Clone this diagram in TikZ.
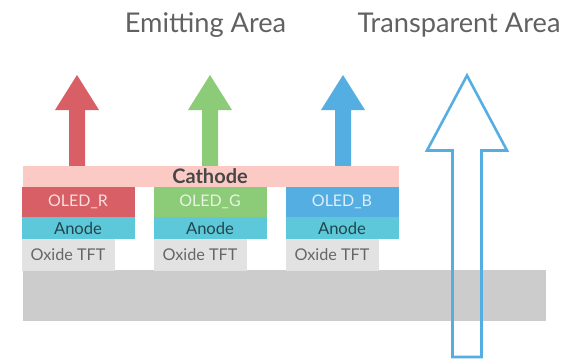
\documentclass[tikz,border=0pt]{standalone}
\usepackage{fontspec}
\setmainfont{Lato}
\definecolor{cred}{HTML}{D75F65}
\definecolor{cgreen}{HTML}{8CCB77}
\definecolor{cblue}{HTML}{55AEE2}
\definecolor{ccath}{HTML}{FBCAC5}
\definecolor{canode}{HTML}{5DC8D9}
\definecolor{ctft}{HTML}{E2E2E2}
\definecolor{cbase}{HTML}{CCCCCC}
\tikzset{
  layer/.style={inner sep=0pt,outer sep=0pt,anchor=north west,font=\fontsize{16}{16}\selectfont},
  oled/.style={layer,minimum width=113pt,minimum height=30pt,text=white,text opacity=0.8},
  anodebox/.style={layer,minimum width=113pt,minimum height=22pt,fill=canode,text=black!65!canode,font=\fontsize{16.6}{16.6}\selectfont},
  tftbox/.style={layer,minimum width=93pt,minimum height=32pt,fill=ctft,text=black!60,font=\fontsize{16.2}{16.2}\selectfont},
  title/.style={inner sep=0pt,font=\fontsize{27.2}{27.2}\selectfont,text=black!62},
}
\newcommand{\emitarrow}[2]{\fill[#2] (#1,75) -- (#1+22,110) -- (#1+8,110) -- (#1+8,167) -- (#1-8,167) -- (#1-8,110) -- (#1-22,110) -- cycle;}
\begin{document}
\begin{tikzpicture}[x=1pt,y=-1pt]
\useasboundingbox (0,0) rectangle (566,360);
\node[layer,fill=cbase,minimum width=523pt,minimum height=51pt] (base) at (23,270) {};
\emitarrow{77}{cred}
\emitarrow{210}{cgreen}
\emitarrow{343}{cblue}
\node[layer,fill=ccath,minimum width=376pt,minimum height=21pt] (cathode) at (23,166) {};
\node[inner sep=0pt,font=\fontsize{20}{20}\selectfont\bfseries,text=black!72] (cathodelabel) at (210,176.5) {Cathode};
\node[oled,fill=cred] (oledr) at (21.5,187) {OLED\_R};
\node[oled,fill=cgreen] (oledg) at (153.5,187) {OLED\_G};
\node[oled,fill=cblue] (oledb) at (285.5,187) {OLED\_B};
\node[anodebox] (anoder) at (21.5,217) {Anode};
\node[anodebox] (anodeg) at (153.5,217) {Anode};
\node[anodebox] (anodeb) at (285.5,217) {Anode};
\node[tftbox] (tftr) at (21.5,238.5) {Oxide TFT};
\node[tftbox] (tftg) at (153.5,238.5) {Oxide TFT};
\node[tftbox] (tftb) at (285.5,238.5) {Oxide TFT};
\draw[cblue,line width=2.6pt,miter limit=10] (467,75.5) -- (507,150.5) -- (481.5,150.5) -- (481.5,357) -- (452.5,357) -- (452.5,150.5) -- (427,150.5) -- cycle;
\node[title] (emit) at (205.5,25.5) {Emitting Area};
\node[title] (trans) at (459,25.5) {Transparent Area};
\end{tikzpicture}
\end{document}
